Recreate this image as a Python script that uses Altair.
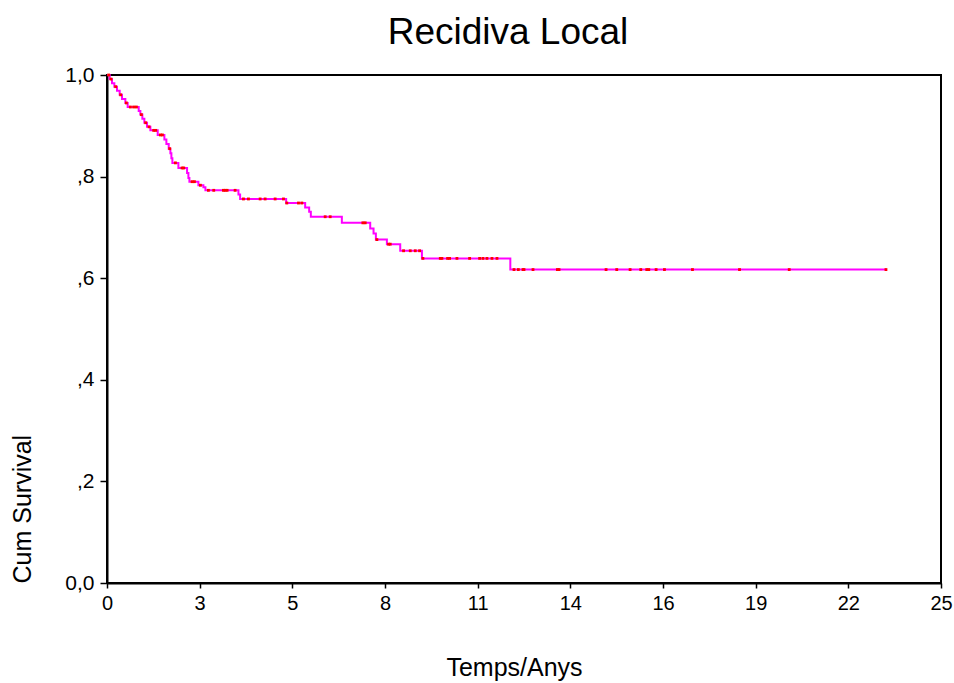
import altair as alt
import pandas as pd
import numpy as np

# Kaplan-Meier steps: time (years) at which the survival drops, and the new level
step_times = [0.00, 0.08, 0.15, 0.22, 0.30, 0.38, 0.45, 0.55, 0.62, 0.95, 1.00,
              1.06, 1.12, 1.20, 1.30, 1.52, 1.72, 1.78, 1.85, 1.90, 1.93, 1.96,
              2.14, 2.40, 2.44, 2.47, 2.74, 2.89, 2.95, 3.94, 3.99, 5.37, 5.94,
              6.06, 6.11, 7.04, 7.89, 7.99, 8.06, 8.39, 8.79, 9.44, 12.09]
step_surv = [1.000, 0.992, 0.984, 0.977, 0.969, 0.961, 0.953, 0.945, 0.937, 0.929, 0.922,
             0.914, 0.906, 0.898, 0.891, 0.882, 0.873, 0.864, 0.855, 0.846, 0.836, 0.827,
             0.817, 0.807, 0.797, 0.790, 0.783, 0.779, 0.773, 0.765, 0.756, 0.748, 0.739,
             0.731, 0.721, 0.709, 0.698, 0.688, 0.676, 0.667, 0.654, 0.639, 0.617]
last_time = 23.35

# censored observations (years)
censor_times = [0.05, 0.12, 0.26, 0.41, 0.58, 0.70, 0.80, 0.88, 1.03, 1.16, 1.26,
                1.40, 1.46, 1.60, 1.66, 1.88, 2.05, 2.25, 2.30, 2.55, 2.62, 2.80,
                3.04, 3.20, 3.49, 3.54, 3.60, 3.84, 4.09, 4.24, 4.59, 4.74, 5.04,
                5.29, 5.39, 5.74, 5.84, 6.54, 6.69, 7.67, 7.74, 8.09, 8.44, 8.49,
                8.89, 9.09, 9.24, 9.37, 9.47, 9.99, 10.04, 10.21, 10.27, 10.49,
                10.87, 11.17, 11.27, 11.39, 11.54, 11.69, 12.20, 12.33, 12.47,
                12.50, 12.77, 13.50, 13.55, 14.96, 15.28, 15.68, 16.00, 16.18,
                16.24, 16.46, 16.71, 17.55, 18.96, 20.45, 23.35]

x_tick_labels = ["0", "3", "5", "8", "11", "14", "16", "19", "22", "25"]
y_tick_labels = ["0,0", ",2", ",4", ",6", ",8", "1,0"]

FONT = "Arial, 'Liberation Sans', Helvetica, sans-serif"

curve = pd.DataFrame({"t": step_times + [last_time],
                      "s": step_surv + [step_surv[-1]]})
idx = np.searchsorted(np.array(step_times), np.array(censor_times), side="right") - 1
cens = pd.DataFrame({"t": censor_times, "s": [step_surv[i] for i in idx]})

x_vals = [25 * i / 9 for i in range(len(x_tick_labels))]
y_vals = [i / 5 for i in range(len(y_tick_labels))]
x_expr = "[" + ",".join(f"'{l}'" for l in x_tick_labels) + "][round(datum.value*9/25)]"
y_expr = "[" + ",".join(f"'{l}'" for l in y_tick_labels) + "][round(datum.value*5)]"

x_enc = alt.X("t:Q", scale=alt.Scale(domain=[0, 25], nice=False, zero=False),
              axis=alt.Axis(values=x_vals, labelExpr=x_expr, title="Temps/Anys",
                            grid=False, tickSize=5, labelPadding=5,
                            labelFont=FONT, labelFontSize=20,
                            labelColor="black", domainColor="black", domainWidth=2,
                            tickColor="black", tickWidth=1.5,
                            titleFont=FONT, titleFontSize=25,
                            titleFontWeight="normal", titleColor="black",
                            titleX=407, titleY=84, titleBaseline="middle",
                            titleAlign="center", labelFlush=False))
y_enc = alt.Y("s:Q", scale=alt.Scale(domain=[0, 1], nice=False, zero=False),
              axis=alt.Axis(values=y_vals, labelExpr=y_expr, title="Cum Survival",
                            grid=False, tickSize=7, labelPadding=6,
                            labelFont=FONT, labelFontSize=21,
                            labelColor="black", domainColor="black", domainWidth=2,
                            tickColor="black", tickWidth=1.5,
                            titleFont=FONT, titleFontSize=25,
                            titleFontWeight="normal", titleColor="black",
                            titleAngle=-90, titleX=-85, titleY=508,
                            titleAlign="left", titleBaseline="middle",
                            labelFlush=False))

line = alt.Chart(curve).mark_line(interpolate="step-after", color="#FF00FF",
                                  strokeWidth=2).encode(x=x_enc, y=y_enc)
marks = alt.Chart(cens).mark_point(shape="square", filled=True, color="#FF0000",
                                   size=8, opacity=1).encode(x="t:Q", y="s:Q")
# black frame around the plotting area
frame = alt.Chart(pd.DataFrame({"k": [0]})).mark_rect(
    fill=None, stroke="black", strokeWidth=2
).encode(x=alt.value(0), x2=alt.value(834), y=alt.value(0), y2=alt.value(508))

chart = (frame + line + marks).properties(
    width=834, height=508,
    title=alt.TitleParams("Recidiva Local", font=FONT, fontSize=37,
                          fontWeight="normal", color="black", anchor="middle",
                          frame="group", dx=-16, offset=12),
    autosize=alt.AutoSizeParams(type="none"),
    padding={"left": 107, "top": 75, "right": 13, "bottom": 100},
).configure_view(stroke=None).configure(background="white")

chart.save("out.html", embed_options={"renderer": "svg", "actions": False})
